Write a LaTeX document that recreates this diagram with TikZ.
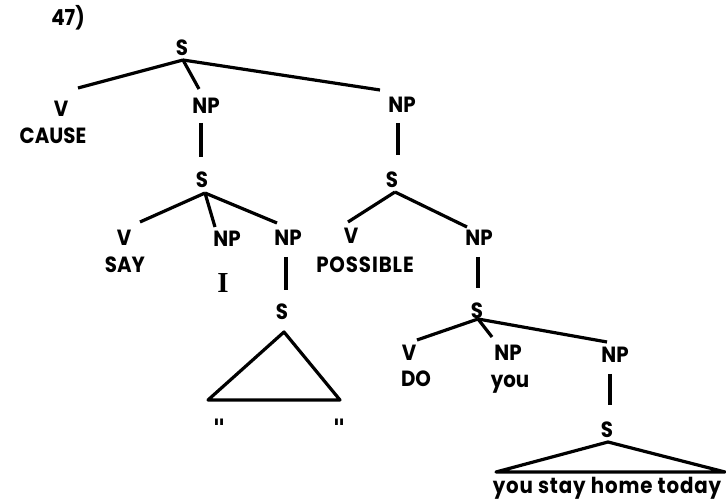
\documentclass[tikz,border=0pt]{standalone}
\usepackage{fontspec}
\setmainfont{Poppins}[FakeStretch=0.9]
\newfontfamily\serifI{Liberation Serif}
\newfontfamily\quotefont{DejaVu Sans}
\begin{document}
\begin{tikzpicture}[x=1pt,y=-1pt,
  lab/.style={inner sep=0pt,font=\fontsize{22}{26}\selectfont\bfseries},
  wide/.style={lab,font=\fontsize{22}{26}\selectfont\bfseries\addfontfeature{LetterSpace=4}},
  qmark/.style={inner sep=0pt,font=\quotefont\fontsize{24}{26}\selectfont\bfseries},
  edge/.style={line width=3.2pt,line join=round}]
\path[use as bounding box,fill=white] (0,0) rectangle (726,502);
% nodes
\node[lab] (title) at (68,18) {47)};
\node[lab] (s0) at (182,48) {S};
\node[lab] (v1) at (61,109) {V};
\node[lab] (cause) at (53,136) {CAUSE};
\node[lab] (np1) at (206,106) {NP};
\node[lab] (np2) at (402,105) {NP};
\node[lab] (s1) at (202,180) {S};
\node[lab] (v2) at (124,238) {V};
\node[lab] (say) at (125,265) {SAY};
\node[lab] (np3) at (227,239) {NP};
\node[inner sep=0pt,font=\serifI\fontsize{29}{32}\selectfont\bfseries] (iw) at (223,283) {I};
\node[lab] (np4) at (288,238) {NP};
\node[lab] (s2) at (282,312) {S};
\node[qmark,anchor=north] (q1) at (219,419) {"};
\node[qmark,anchor=north] (q2) at (339,419) {"};
\node[lab] (s3) at (392,180) {S};
\node[lab] (v3) at (351,236) {V};
\node[wide] (possible) at (365,265) {POSSIBLE};
\node[lab] (np5) at (479,238) {NP};
\node[lab] (s4) at (477,311) {S};
\node[lab] (v4) at (409,353) {V};
\node[lab] (do) at (416,379) {DO};
\node[lab] (np6) at (508,353) {NP};
\node[lab] (you) at (510,384) {you};
\node[lab] (np7) at (615,355) {NP};
\node[lab] (s5) at (607,430) {S};
\node[wide,anchor=base] (sent) at (607,494) {you stay home today};
% edges
\draw[edge] ([shift={(1,12)}]s0.center) -- ([shift={(17,-21)}]v1.center);
\draw[edge] ([shift={(1,12)}]s0.center) -- ([shift={(-7,-17)}]np1.center);
\draw[edge] ([shift={(1,12)}]s0.center) -- ([shift={(-22,-15)}]np2.center);
\draw[edge] ([shift={(-5,17)}]np1.center) -- ([shift={(-1,-23)}]s1.center);
\draw[edge] ([shift={(-4,18)}]np2.center) -- ([shift={(6,-25)}]s3.center);
\draw[edge] ([shift={(3,13)}]s1.center) -- ([shift={(16,-16)}]v2.center);
\draw[edge] ([shift={(3,13)}]s1.center) -- ([shift={(-12,-12)}]np3.center);
\draw[edge] ([shift={(3,13)}]s1.center) -- ([shift={(-11,-15)}]np4.center);
\draw[edge] ([shift={(-2,19)}]np4.center) -- ([shift={(4,-22)}]s2.center);
\draw[edge] ([shift={(2,20)}]s2.center) -- ++(-76,68) -- ++(132,0) -- cycle;
\draw[edge] ([shift={(3,12)}]s3.center) -- ([shift={(-3,-14)}]v3.center);
\draw[edge] ([shift={(3,12)}]s3.center) -- ([shift={(-12,-11)}]np5.center);
\draw[edge] ([shift={(-1,19)}]np5.center) -- ([shift={(1,-23)}]s4.center);
\draw[edge] ([shift={(1,8)}]s4.center) -- ([shift={(8,-13)}]v4.center);
\draw[edge] ([shift={(1,8)}]s4.center) -- ([shift={(-16,-16)}]np6.center);
\draw[edge] ([shift={(1,8)}]s4.center) -- ([shift={(-8,-13)}]np7.center);
\draw[edge] ([shift={(-5,19)}]np7.center) -- ([shift={(3,-25)}]s5.center);
\draw[edge] ([shift={(1,12)}]s5.center) -- ++(-112,30) -- ++(229,0) -- cycle;
\end{tikzpicture}
\end{document}
